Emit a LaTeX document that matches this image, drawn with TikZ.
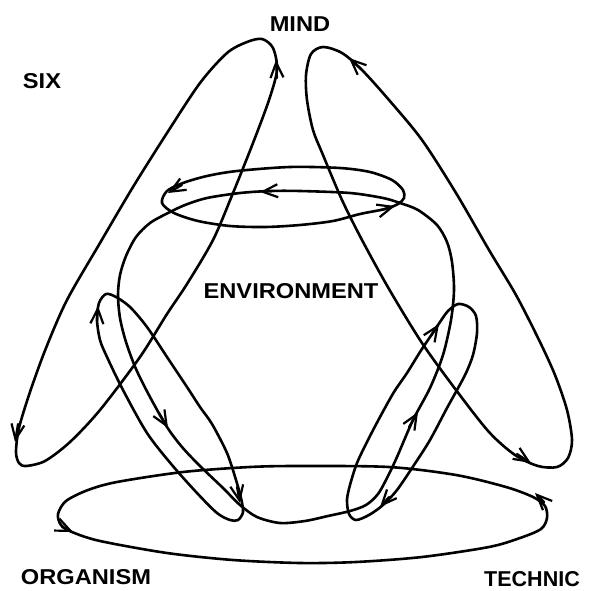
\documentclass[tikz,border=0pt]{standalone}
\usepackage{fontspec}
\setmainfont{Liberation Sans}
\usetikzlibrary{arrows.meta}
\tikzset{
  curve/.style={line width=2.6pt, line join=round, line cap=round},
  arr/.style={line width=2.2pt, line cap=round, -{Straight Barb[length=15pt,width=13pt]}},
  lbl/.style={font=\fontsize{21.5}{21.5}\selectfont\bfseries, inner sep=0pt},
}
\begin{document}
\begin{tikzpicture}[x=1pt,y=-1pt]
\useasboundingbox (0,0) rectangle (589,591);
% big left loop (SIX)
\draw[curve] plot[smooth cycle] coordinates {(26,466) (45,461) (70,442) (100,410) (140,357) (167,314) (187,284) (213,240) (233,193) (253,143) (269,100) (277,70) (273,48) (262,39) (247,42) (227,53) (200,83) (167,133) (133,187) (100,243) (67,300) (46,348) (30,392) (19,428) (16,452) (19,463)};
% big right loop
\draw[curve] plot[smooth cycle] coordinates {(323,47) (311,54) (306,75) (307,100) (313,130) (323,155) (342,200) (362,240) (389,289) (422,343) (456,390) (489,432) (515,455) (538,466) (557,467) (568,458) (572,440) (567,410) (555,375) (539,340) (516,295) (489,250) (456,193) (422,140) (389,100) (362,70) (342,53)};
% bottom loop
\draw[curve] plot[smooth cycle] coordinates {(58,514) (66,501) (88,490) (117,482) (183,472) (250,467) (300,466) (389,467) (456,475) (506,487) (533,497) (545,506) (547,518) (541,529) (520,538) (489,547) (422,557) (356,562) (300,563) (233,560) (167,553) (100,541) (72,532) (61,525)};
% top ellipse
\draw[curve] plot[smooth cycle] coordinates {(162,203) (167,191) (183,183) (207,176) (237,171) (290,167) (340,168) (370,172) (392,180) (403,190) (404,198) (398,204) (385,209) (360,214) (333,221) (300,225) (265,227) (230,226) (198,221) (174,213)};
% environment body
\draw[curve] plot[smooth cycle] coordinates {(400,203) (383,198) (350,193) (300,191) (270,191) (240,193) (207,198) (185,205) (168,213) (150,223) (136,237) (126,256) (120,275) (118,295) (120,318) (126,342) (136,369) (150,397) (167,427) (182,447) (200,466) (223,488) (240,505) (257,517) (280,523) (305,521) (328,516) (350,511) (366,505) (378,494) (388,476) (397,457) (413,420) (430,388) (443,355) (451,320) (454,290) (452,262) (447,242) (437,225) (418,210)};
% left diagonal ellipse
\draw[curve] plot[smooth cycle] coordinates {(106,294) (116,297) (130,307) (147,327) (167,357) (187,387) (200,407) (212,424) (227,453) (236,480) (241,498) (243,512) (238,520) (230,520) (217,513) (197,493) (172,465) (147,433) (123,390) (107,357) (100,340) (97,320) (99,303)};
% right diagonal ellipse
\draw[curve] plot[smooth cycle] coordinates {(458,304) (469,307) (476,316) (477,333) (473,355) (466,373) (457,390) (447,408) (430,440) (414,465) (397,490) (383,505) (369,515) (356,520) (349,514) (347,500) (350,485) (357,463) (368,440) (380,417) (394,392) (407,373) (420,352) (430,337) (440,322) (448,311)};
% arrowheads
\draw[arr] (277,78) -- (276,60);
\draw[arr] (18,424) -- (15,442);
\draw[arr] (361,69) -- (349,58);
\draw[arr] (517,454) -- (531,463);
\draw[arr] (62,527) -- (73,532);
\draw[arr] (544,502) -- (535,493);
\draw[arr] (182,185) -- (168,193);
\draw[arr] (274,191) -- (260,192);
\draw[arr] (381,210) -- (395,206);
\draw[arr] (159,413) -- (168,428);
\draw[arr] (97,322) -- (98,306);
\draw[arr] (237,487) -- (240,503);
\draw[arr] (409,427) -- (418,412);
\draw[arr] (431,336) -- (439,324);
\draw[arr] (389,497) -- (380,507);
% labels
\node[lbl] (mind) at (300,24.5) {\scalebox{1.1}[1]{MIND}};
\node[lbl] (six) at (42,81.5) {\scalebox{1.1}[1]{SIX}};
\node[lbl] (env) at (291,291) {\scalebox{1.1}[1]{ENVIRONMENT}};
\node[lbl] (org) at (86,577) {\scalebox{1.1}[1]{ORGANISM}};
\node[lbl] (tech) at (532,579) {TECHNIC};
\end{tikzpicture}
\end{document}
